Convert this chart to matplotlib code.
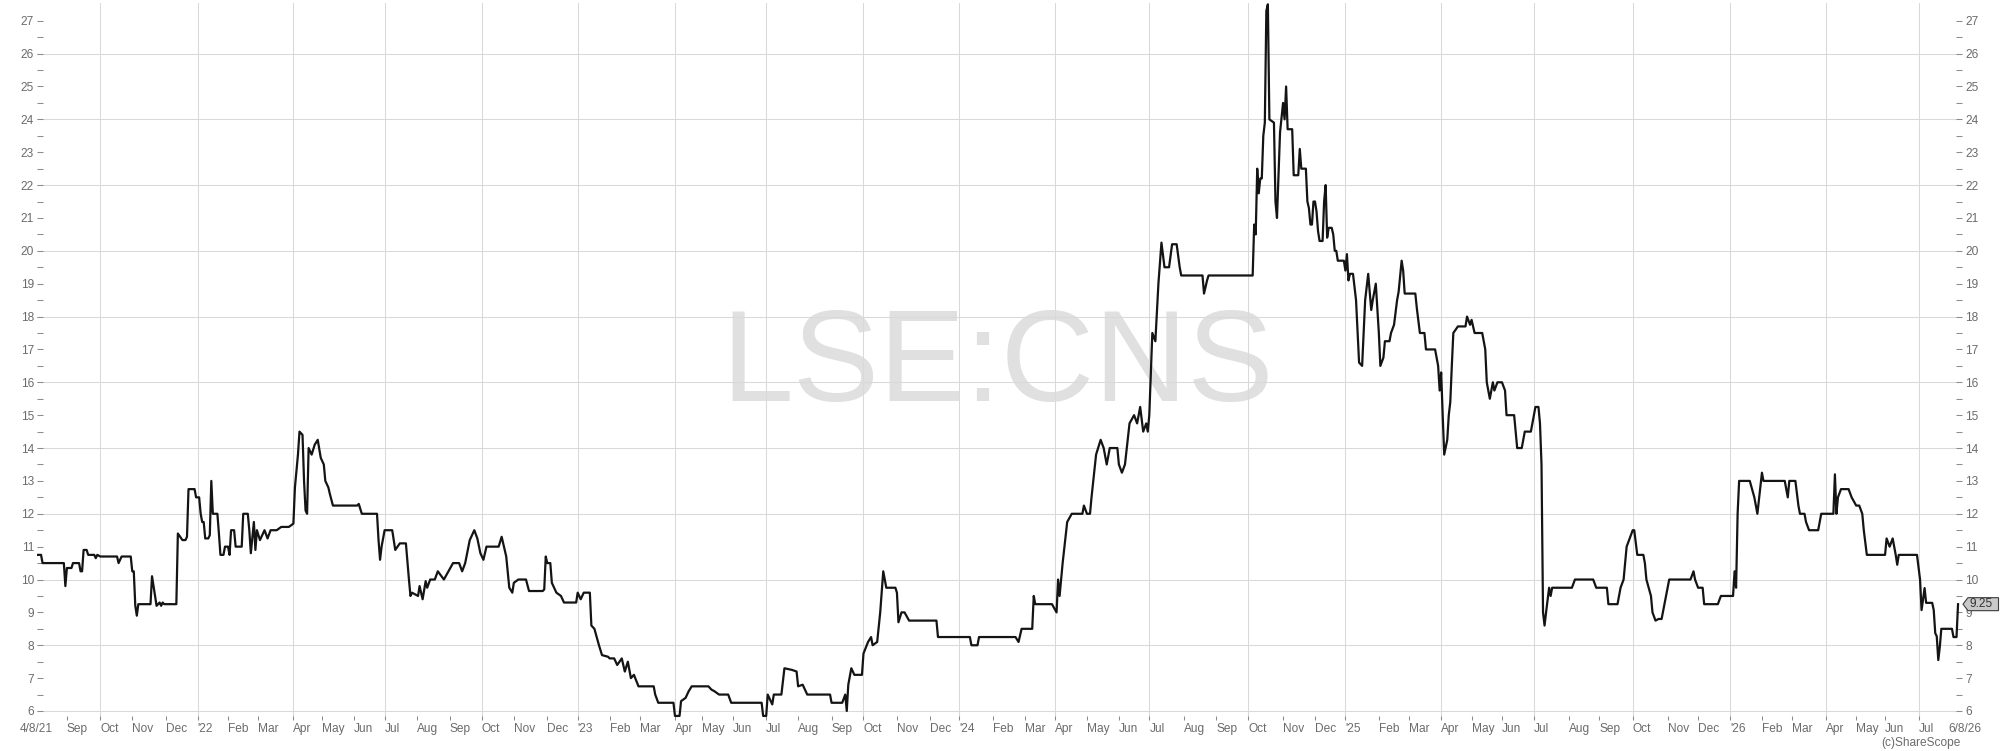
import numpy as np
import matplotlib.pyplot as plt
from matplotlib.patches import Polygon
from matplotlib.transforms import IdentityTransform

plt.rcParams['font.family'] = ['Liberation Sans', 'DejaVu Sans']

# daily closes (month-day per year, price in pence)
d21 = """08-04 08-06 08-09 08-27 08-31 09-01 09-06 09-07 09-13 09-14
09-15 09-16 09-20 09-21 09-27 09-28 09-29 10-01 10-18 10-19
10-21 10-29 11-01 11-02 11-03 11-04 11-05 11-17 11-18 11-22
11-23 11-25 11-26 11-29 11-30 12-10 12-13 12-16 12-20 12-21
12-22 12-30 12-31""".split()
p21 = [10.75, 10.75, 10.5, 10.5, 9.8, 10.35, 10.35, 10.5, 10.5, 10.25,
       10.25, 10.9, 10.9, 10.75, 10.75, 10.65, 10.75, 10.7, 10.7, 10.5,
       10.7, 10.7, 10.25, 10.25, 9.2, 8.9, 9.25, 9.25, 10.1, 9.5,
       9.2, 9.3, 9.2, 9.3, 9.25, 9.25, 11.4, 11.2, 11.2, 11.3,
       12.75, 12.75, 12.5]

d22 = """01-05 01-06 01-07 01-10 01-11 01-13 01-14 01-17 01-18 01-21
01-24 01-25 01-27 01-28 02-01 02-02 02-03 02-07 02-08 02-14
02-15 02-18 02-21 02-22 02-24 02-25 02-28 03-02 03-07 03-09
03-11 03-17 03-22 03-29 04-01 04-04 04-06 04-07 04-11 04-12
04-13 04-14 04-19 04-21 04-25 04-27 04-29 05-04 05-05 05-09
05-10 05-12 06-07 06-08 06-10 06-24 06-27 06-28 06-29 07-01
07-08 07-12 07-15 07-21 07-25 07-26 07-27 08-02 08-03 08-05
08-09 08-10 08-12 08-17 08-19 08-25 08-31 09-05 09-09 09-13
09-15 09-21 09-26 09-28 09-30 10-04 10-06 10-18 10-20 10-25
10-27 10-31 11-01 11-04 11-11 11-15 11-28 11-29 11-30 12-01
12-05 12-06 12-09 12-14 12-16 12-30""".split()
p22 = [12.5, 12.0, 11.75, 11.75, 11.25, 11.25, 11.35, 13.0, 12.0, 12.0,
       11.4, 10.75, 10.75, 11.0, 11.0, 10.75, 11.5, 11.5, 11.0, 11.0,
       12.0, 12.0, 11.5, 10.8, 11.75, 10.9, 11.5, 11.2, 11.5, 11.25,
       11.5, 11.5, 11.6, 11.6, 11.7, 12.8, 13.8, 14.5, 14.4, 13.0,
       12.1, 12.0, 14.0, 13.8, 14.1, 14.25, 13.7, 13.5, 13.0, 12.8,
       12.6, 12.25, 12.25, 12.3, 12.0, 12.0, 11.2, 10.6, 11.0, 11.5,
       11.5, 10.9, 11.1, 11.1, 10.0, 9.5, 9.6, 9.5, 9.8, 9.4,
       9.95, 9.75, 10.0, 10.0, 10.25, 10.0, 10.25, 10.5, 10.5, 10.25,
       10.5, 11.2, 11.5, 11.25, 10.8, 10.6, 11.0, 11.0, 11.3, 10.7,
       9.75, 9.6, 9.9, 10.0, 10.0, 9.65, 9.65, 9.7, 10.7, 10.5,
       10.5, 9.9, 9.6, 9.5, 9.3, 9.3]

d23 = """01-03 01-05 01-09 01-13 01-16 01-18 01-23 01-25 01-31 02-01
02-06 02-08 02-13 02-15 02-17 02-21 02-23 02-28 03-14 03-15
03-17 03-31 04-03 04-06 04-11 04-14 04-18 04-20 05-09 05-11
05-15 05-18 05-26 05-31 06-28 06-29 07-03 07-04 07-07 07-10
07-17 07-19 07-26 07-31 08-01 08-04 08-09 08-31 09-01 09-12
09-14 09-15 09-18 09-20 09-22 09-29 10-02 10-05 10-09 10-10
10-13 10-17 10-19 10-23 10-31 11-01 11-02 11-06 11-08 11-13
12-07 12-08""".split()
p23 = [9.6, 9.4, 9.6, 9.6, 8.6, 8.5, 8.0, 7.7, 7.65, 7.6,
       7.6, 7.4, 7.6, 7.2, 7.5, 7.0, 7.1, 6.75, 6.75, 6.5,
       6.25, 6.25, 5.85, 5.85, 6.3, 6.4, 6.6, 6.75, 6.75, 6.65,
       6.6, 6.5, 6.5, 6.25, 6.25, 5.85, 5.85, 6.5, 6.2, 6.5,
       6.5, 7.3, 7.25, 7.2, 6.75, 6.8, 6.5, 6.5, 6.25, 6.25,
       6.5, 6.0, 6.8, 7.3, 7.1, 7.1, 7.75, 8.1, 8.25, 8.0,
       8.1, 9.0, 10.25, 9.75, 9.75, 9.6, 8.7, 9.0, 9.0, 8.75,
       8.75, 8.25]

d24 = """01-11 01-12 01-18 01-19 02-22 02-26 02-28 03-08 03-11 03-12
03-27 04-03 04-04 04-05 04-09 04-12 04-17 04-26 04-29 05-01
05-03 05-07 05-10 05-15 05-17 05-21 05-23 05-31 06-03 06-05
06-07 06-12 06-17 06-19 06-21 06-25 06-27 06-28 07-01 07-03
07-05 07-09 07-11 07-15 07-18 07-22 07-25 07-29 07-30 08-19
08-20 08-22 08-23 10-04 10-07 10-08 10-09 10-10 10-11 10-14
10-15 10-16 10-17 10-18 10-21 10-24 10-25 10-28 10-30 11-01
11-04 11-05 11-06 11-11 11-12 11-15 11-18 11-19 11-22 11-25
11-26 11-27 11-28 11-29 12-02 12-03 12-04 12-05 12-09 12-10
12-11 12-12 12-13 12-17 12-18 12-19 12-20 12-23 12-31""".split()
p24 = [8.25, 8.0, 8.0, 8.25, 8.25, 8.1, 8.5, 8.5, 9.5, 9.25,
       9.25, 9.0, 10.0, 9.5, 10.5, 11.75, 12.0, 12.0, 12.25, 12.0,
       12.0, 12.5, 13.8, 14.25, 14.0, 13.5, 14.0, 14.0, 13.5, 13.25,
       13.5, 14.75, 15.0, 14.75, 15.25, 14.5, 14.75, 14.5, 15.0, 17.5,
       17.25, 19.0, 20.25, 19.5, 19.5, 20.2, 20.2, 19.5, 19.25, 19.25,
       18.7, 19.1, 19.25, 19.25, 20.8, 20.5, 22.5, 21.75, 22.2, 22.2,
       23.5, 23.9, 27.3, 27.5, 24.0, 23.9, 21.5, 21.0, 23.6, 24.5,
       24.0, 25.0, 23.7, 23.7, 22.3, 22.3, 23.1, 22.5, 22.5, 21.5,
       21.3, 20.8, 20.8, 21.5, 21.5, 21.2, 20.6, 20.3, 20.3, 21.5,
       22.0, 20.4, 20.7, 20.7, 20.5, 20.0, 20.0, 19.7, 19.7]

d25 = """01-02 01-03 01-06 01-07 01-09 01-13 01-15 01-17 01-20 01-21
01-23 01-27 01-28 01-30 02-03 02-04 02-06 02-07 02-12 02-13
02-17 02-19 02-20 02-24 02-25 02-26 03-07 03-10 03-12 03-17
03-18 03-26 03-28 03-31 04-01 04-02 04-03 04-07 04-08 04-09
04-10 04-11 04-16 04-25 04-28 04-30 05-01 05-06 05-13 05-15
05-16 05-20 05-22 05-23 05-28 06-02 06-04 06-05 06-12 06-13
06-16 06-19 06-23 06-27 07-02 07-04 07-07 07-08 07-09 07-10
07-11 07-15 07-16 07-17 08-05 08-07 08-26 08-28 09-08 09-09
09-17 09-19 09-23 09-25 10-01 10-02 10-06 10-10 10-13 10-14
10-17 10-20 10-22 10-24 10-28 11-03 11-04 11-24 11-26 11-27
12-01 12-04 12-05 12-18 12-22""".split()
p25 = [19.4, 19.9, 19.1, 19.3, 19.3, 18.5, 16.6, 16.5, 17.5, 18.5,
       19.3, 18.2, 18.5, 19.0, 17.5, 16.5, 16.75, 17.25, 17.25, 17.5,
       17.75, 18.5, 18.75, 19.7, 19.4, 18.7, 18.7, 18.25, 17.5, 17.5,
       17.0, 17.0, 16.5, 15.75, 16.3, 15.0, 13.8, 14.25, 15.0, 15.4,
       16.5, 17.5, 17.7, 17.7, 18.0, 17.75, 17.9, 17.5, 17.5, 17.0,
       16.0, 15.5, 16.0, 15.75, 16.0, 16.0, 15.75, 15.0, 15.0, 14.5,
       14.0, 14.0, 14.5, 14.5, 15.25, 15.25, 14.75, 13.5, 9.0, 8.6,
       9.0, 9.75, 9.5, 9.75, 9.75, 10.0, 10.0, 9.75, 9.75, 9.25,
       9.25, 9.75, 10.0, 11.0, 11.5, 11.5, 10.75, 10.75, 10.5, 10.0,
       9.5, 9.0, 8.75, 8.8, 8.8, 9.75, 10.0, 10.0, 10.25, 10.0,
       9.75, 9.75, 9.25, 9.25, 9.5]

d26 = """01-06 01-07 01-08 01-09 01-12 01-21 01-26 01-28 02-02 02-03
02-23 02-25 02-26 03-04 03-06 03-09 03-12 03-13 03-17 03-25
03-27 04-10 04-13 04-14 04-15 04-17 04-24 04-28 05-01 05-06
05-08 05-11 05-13 06-01 06-02 06-04 06-08 06-10 06-11 06-12
06-30 07-02 07-03 07-07 07-08 07-14 07-15 07-16 07-17 07-20
07-21 07-22 07-31 08-03 08-05 08-06""".split()
p26 = [9.5, 10.25, 9.75, 12.0, 13.0, 13.0, 12.5, 12.0, 13.25, 13.0,
       13.0, 12.5, 13.0, 13.0, 12.25, 12.0, 12.0, 11.75, 11.5, 11.5,
       12.0, 12.0, 13.2, 12.0, 12.5, 12.75, 12.75, 12.5, 12.25, 12.25,
       12.0, 11.5, 10.75, 10.75, 11.25, 11.0, 11.25, 10.75, 10.45, 10.75,
       10.75, 10.0, 9.07, 9.74, 9.29, 9.29, 9.07, 8.37, 8.27, 7.55,
       7.95, 8.5, 8.5, 8.25, 8.25, 9.25]

# UK market holidays (x axis counts trading days)
uk_holidays = ['2021-08-30', '2021-12-27', '2021-12-28',
               '2022-01-03', '2022-04-15', '2022-04-18', '2022-05-02', '2022-06-02',
               '2022-06-03', '2022-08-29', '2022-09-19', '2022-12-26', '2022-12-27',
               '2023-01-02', '2023-04-07', '2023-04-10', '2023-05-01', '2023-05-08',
               '2023-05-29', '2023-08-28', '2023-12-25', '2023-12-26',
               '2024-01-01', '2024-03-29', '2024-04-01', '2024-05-06', '2024-05-27',
               '2024-08-26', '2024-12-25', '2024-12-26',
               '2025-01-01', '2025-04-18', '2025-04-21', '2025-05-05', '2025-05-26',
               '2025-08-25', '2025-12-25', '2025-12-26',
               '2026-01-01', '2026-04-03', '2026-04-06', '2026-05-04', '2026-05-25']

month_names = ['Jan', 'Feb', 'Mar', 'Apr', 'May', 'Jun',
               'Jul', 'Aug', 'Sep', 'Oct', 'Nov', 'Dec']

dates, prices = [], []
for yr, (dd, pp) in zip(range(2021, 2027), [(d21, p21), (d22, p22), (d23, p23),
                                             (d24, p24), (d25, p25), (d26, p26)]):
    assert len(dd) == len(pp), yr
    dates += ['%d-%s' % (yr, d) for d in dd]
    prices += pp
dates = np.array(dates, dtype='datetime64[D]')
prices = np.array(prices)

hol = np.array(uk_holidays, dtype='datetime64[D]')
start = dates[0]
xs = np.busday_count(start, dates, holidays=hol)
x_end = xs[-1]

months = np.arange('2021-09', '2026-08', dtype='datetime64[M]')
month_x = np.busday_count(start, months.astype('datetime64[D]'), holidays=hol)
month_num = months.astype(int) % 12
month_lbl = ["'%02d" % ((months[i].astype(int) // 12 + 1970) % 100) if m == 0
             else month_names[m] for i, m in enumerate(month_num)]
quarter_x = month_x[month_num % 3 == 0]

W, H = 2000, 751
fig = plt.figure(figsize=(W / 100, H / 100), dpi=100)
ax = fig.add_axes([37 / W, 31 / H, 1925 / W, 717 / H])

grid_c = '#d9d9d9'
tick_c = '#8c8c8c'
text_c = '#6b6b6b'

ax.plot(xs, prices, color='#141414', lw=1.6, zorder=3)

ax.set_xlim(-0.66, x_end + 2.6)
ax.set_ylim(5.726, 27.54)

for v in range(6, 27, 2):
    ax.axhline(v, color=grid_c, lw=0.75, zorder=1)
for q in quarter_x:
    ax.axvline(q, color=grid_c, lw=0.75, zorder=1)

for s in ax.spines.values():
    s.set_visible(False)

ax.set_yticks(np.arange(6, 28))
ax.set_yticks(np.arange(6.5, 27, 1), minor=True)
ax.tick_params(axis='y', which='both', direction='in', length=4.3, width=0.75,
               color=tick_c, left=True, right=True, labelleft=True, labelright=True,
               labelsize=8.6, labelcolor=text_c, pad=2.2)

ax.set_xticks(month_x, month_lbl)
ax.tick_params(axis='x', which='major', direction='in', length=3, width=0.75,
               color=tick_c, labelsize=8.6, labelcolor=text_c, pad=2.2)
plt.setp(ax.get_xticklabels(), ha='left')

ax.annotate('4/8/21', xy=(0, 0), xycoords=('data', 'axes fraction'),
            xytext=(-1.4, -2.2), textcoords='offset points',
            ha='center', va='top', fontsize=8.6, color=text_c)
ax.annotate('6/8/26', xy=(x_end, 0), xycoords=('data', 'axes fraction'),
            xytext=(-7.2, -2.2), textcoords='offset points',
            ha='left', va='top', fontsize=8.6, color=text_c)

# watermark
ax.text(998 / W, (H - 401) / H, 'LSE:CNS', transform=fig.transFigure,
        ha='center', va='baseline', fontsize=93, color='#e0e0e0', zorder=0.5)

# last price tag on the right axis
yc = ax.transData.transform((0, prices[-1]))[1]
xr = ax.transAxes.transform((1, 0))[0]
tag = [(xr + 1, yc), (xr + 6, yc + 6.5), (W - 1.5, yc + 6.5),
       (W - 1.5, yc - 6.5), (xr + 6, yc - 6.5)]
fig.add_artist(Polygon(tag, closed=True, transform=IdentityTransform(),
                       facecolor='#c9c9c9', edgecolor='#3c3c3c', lw=0.8))
fig.text(xr + 7, yc, '%.2f' % prices[-1], transform=IdentityTransform(),
         ha='left', va='center', fontsize=8.6, color='#333333')

fig.text(1961 / W, 5 / H, '(c)ShareScope', ha='right', va='baseline',
         fontsize=8.6, color=text_c)

fig.savefig('out.png', dpi=100)
